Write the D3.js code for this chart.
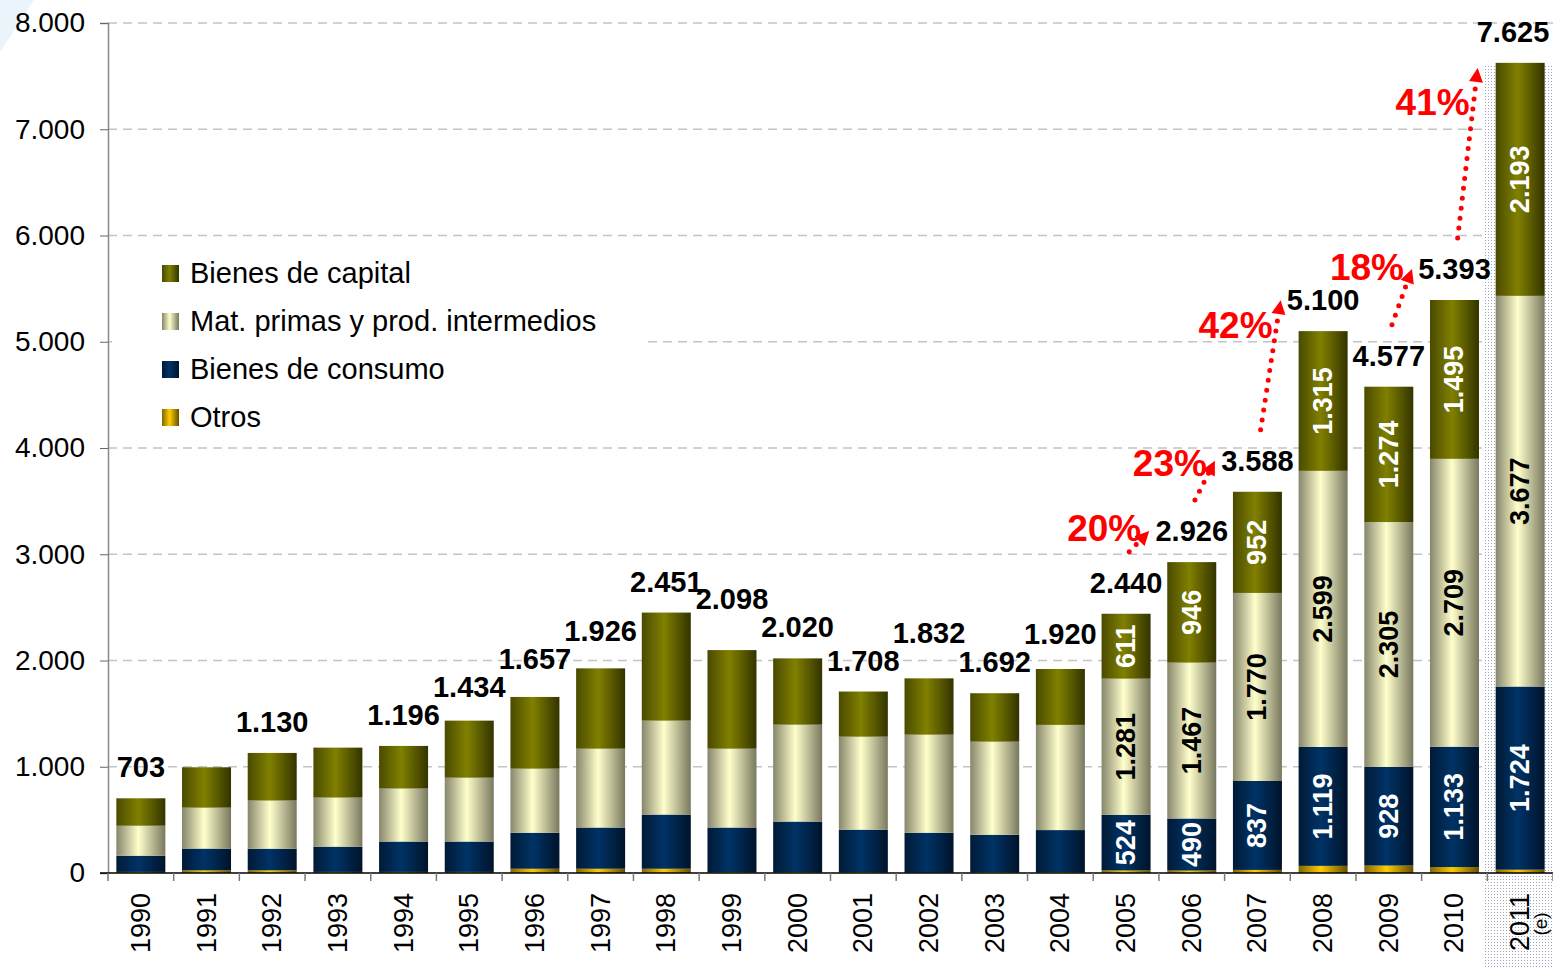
<!DOCTYPE html>
<html>
<head>
<meta charset="utf-8">
<script src="https://cdn.jsdelivr.net/npm/d3@7"></script>
<style>
  body { margin: 0; background: #fff; }
  svg { display: block; font-family: "Liberation Sans", Arial, sans-serif; }
</style>
</head>
<body>
<div id="chart"></div>
<script>
// data
const years = ['1990','1991','1992','1993','1994','1995','1996','1997','1998','1999','2000',
               '2001','2002','2003','2004','2005','2006','2007','2008','2009','2010','2011'];
const otros     = [10, 25, 25, 10, 10, 10, 40, 40, 40, 8, 8, 8, 3, 8, 8, 24, 23, 29, 67, 70, 56, 31];
const consumo   = [153, 205, 204, 238, 286, 286, 339, 388, 510, 420, 476, 400, 376, 352, 396, 524, 490, 837, 1119, 928, 1133, 1724];
const matPrimas = [282, 385, 453, 462, 499, 601, 603, 742, 884, 742, 912, 875, 923, 876, 990, 1281, 1467, 1770, 2599, 2305, 2709, 3677];
const capital   = [258, 380, 448, 470, 401, 537, 675, 756, 1017, 928, 624, 425, 530, 456, 526, 611, 946, 952, 1315, 1274, 1495, 2193];
// totals printed above bars (1991 and 1993 have none)
const totalLabels = [703, null, 1130, null, 1196, 1434, 1657, 1926, 2451, 2098, 2020,
                     1708, 1832, 1692, 1920, 2440, 2926, 3588, 5100, 4577, 5393, 7625];
const yTicks = [0, 1000, 2000, 3000, 4000, 5000, 6000, 7000, 8000];
const growthPairs = [['2005','2006'], ['2006','2007'], ['2007','2008'], ['2009','2010'], ['2010','2011']];
const labelFrom = '2005';   // segment values printed from this year on
const estimateYear = '2011';

const seriesNames = {
    capital: 'Bienes de capital',
    mat: 'Mat. primas y prod. intermedios',
    consumo: 'Bienes de consumo',
    otros: 'Otros'
};
const shades = {
    capital: ['#4a4a00', '#808000', '#333300'],
    mat:     ['#86866c', '#ffffcc', '#78785f'],
    consumo: ['#001a35', '#003366', '#00132a'],
    otros:   ['#806600', '#ffcc00', '#664f00']
};
const labelColor = { capital: '#fff', mat: '#000', consumo: '#fff' };

const W = 1553, H = 969;
const es = d3.formatLocale({ decimal: ',', thousands: '.', grouping: [3], currency: ['', ''] });
const fmt = es.format(',d');

const rows = years.map((y, i) => ({
    year: y, otros: otros[i], consumo: consumo[i], mat: matPrimas[i], capital: capital[i]
}));
const totals = rows.map(d => d.otros + d.consumo + d.mat + d.capital);

const svg = d3.select('#chart').append('svg')
    .attr('width', W).attr('height', H);

const defs = svg.append('defs');
Object.keys(shades).forEach(k => {
    const g = defs.append('linearGradient').attr('id', 'g-' + k)
        .attr('x1', 0).attr('x2', 1).attr('y1', 0).attr('y2', 0);
    g.append('stop').attr('offset', '0%').attr('stop-color', shades[k][0]);
    g.append('stop').attr('offset', '45%').attr('stop-color', shades[k][1]);
    g.append('stop').attr('offset', '100%').attr('stop-color', shades[k][2]);
});
const pat = defs.append('pattern').attr('id', 'stipple')
    .attr('width', 3).attr('height', 3).attr('patternUnits', 'userSpaceOnUse');
pat.append('rect').attr('width', 3).attr('height', 3).attr('fill', '#fff');
pat.append('rect').attr('width', 1).attr('height', 1).attr('fill', '#9ea3ba');

// faint corner decoration
svg.append('path').attr('d', 'M0,0 L34,0 L0,52 Z').attr('fill', '#e9f5fb');

const x = d3.scaleBand().domain(years).range([108, W])
    .paddingInner(0.254).paddingOuter(0.127);
const y = d3.scaleLinear().domain([0, 8000]).range([873, 23]);

// grid lines
svg.append('g').selectAll('line').data(yTicks.filter(t => t > 0)).enter().append('line')
    .attr('x1', 108).attr('x2', W)
    .attr('y1', d => y(d)).attr('y2', d => y(d))
    .attr('stroke', '#c4c4c4').attr('stroke-width', 1.3)
    .attr('stroke-dasharray', '9,6');

// estimate-year shaded column
const estLeft = x(estimateYear) - x.step() * x.paddingInner() / 2 - 4;
svg.append('rect')
    .attr('x', estLeft).attr('y', y(7600))
    .attr('width', W - estLeft).attr('height', H - y(7600))
    .attr('fill', 'url(#stipple)');

// y axis
const yAxis = svg.append('g')
    .attr('transform', 'translate(108,0)')
    .call(d3.axisLeft(y).tickValues(yTicks).tickFormat(fmt).tickSize(8).tickPadding(15));
yAxis.select('.domain').attr('stroke', '#888').attr('stroke-width', 1.5);
yAxis.selectAll('.tick line').attr('stroke', '#666');
yAxis.selectAll('text').attr('font-size', 28).attr('fill', '#000')
    .attr('font-family', '"Liberation Sans", Arial, sans-serif');

// stacked bars
const stack = d3.stack().keys(['otros', 'consumo', 'mat', 'capital']);
const series = stack(rows);
svg.append('g').selectAll('g').data(series).enter().append('g')
    .attr('fill', s => `url(#g-${s.key})`)
    .selectAll('rect').data(s => s).enter().append('rect')
    .attr('x', d => x(d.data.year))
    .attr('width', x.bandwidth())
    .attr('y', d => y(d[1]))
    .attr('height', d => y(d[0]) - y(d[1]));

// x axis baseline + category boundary ticks
svg.append('line')
    .attr('x1', 100).attr('x2', W).attr('y1', y(0)).attr('y2', y(0))
    .attr('stroke', '#000').attr('stroke-width', 1.5);
svg.append('g').selectAll('line').data(d3.range(years.length + 1)).enter().append('line')
    .attr('x1', i => 108 + i * x.step()).attr('x2', i => 108 + i * x.step())
    .attr('y1', y(0)).attr('y2', y(0) + 8)
    .attr('stroke', '#777').attr('stroke-width', 1.5);

// year labels
svg.append('g').selectAll('text').data(years).enter().append('text')
    .attr('transform', d => `translate(${x(d) + x.bandwidth() / 2},893) rotate(-90)`)
    .attr('text-anchor', 'end').attr('dominant-baseline', 'central')
    .attr('font-size', 27).attr('fill', '#000')
    .text(d => d);
svg.append('text')
    .attr('transform', `translate(${x(estimateYear) + x.bandwidth() / 2 + 20},924) rotate(-90)`)
    .attr('text-anchor', 'middle').attr('dominant-baseline', 'central')
    .attr('font-size', 19).attr('fill', '#000')
    .text('(e)');

// segment values
const fromIdx = years.indexOf(labelFrom);
series.filter(s => s.key !== 'otros').forEach(s => {
    svg.append('g').selectAll('text')
        .data(s.filter(d => years.indexOf(d.data.year) >= fromIdx)).enter().append('text')
        .attr('transform', d => `translate(${x(d.data.year) + x.bandwidth() / 2},${(y(d[0]) + y(d[1])) / 2}) rotate(-90)`)
        .attr('text-anchor', 'middle').attr('dominant-baseline', 'central')
        .attr('font-size', 27).attr('font-weight', 'bold')
        .attr('fill', labelColor[s.key])
        .text(d => fmt(d.data[s.key]));
});

// totals, nudged up when a neighbour sits at nearly the same height
const tl = years.map((yr, i) => ({
    year: yr, label: totalLabels[i], cx: Math.min(x(yr) + x.bandwidth() / 2, W - 40), by: y(totals[i]) - 21
}));
for (let i = 0; i < tl.length - 1; i++) {
    const a = tl[i], b = tl[i + 1];
    if (a.label == null || b.label == null) continue;
    if (Math.abs(a.by - b.by) < 28) {
        if (a.by < b.by) a.by = b.by - 28; else b.by = a.by - 28;
    }
}
const shown = tl.filter(d => d.label != null);
svg.append('g').selectAll('text')
    .data(shown)
    .enter().append('text')
    .attr('x', d => d.cx)
    .attr('y', d => d.by)
    .attr('text-anchor', 'middle')
    .attr('font-size', 29).attr('font-weight', 'bold').attr('fill', '#000')
    .text(d => fmt(d.label));

// growth arrows
const ann = svg.append('g');
growthPairs.forEach(([a, b]) => {
    const ta = totals[years.indexOf(a)], tb = totals[years.indexOf(b)];
    const hx = x(b) - 18, hy = Math.max(y(tb) - 31, 68);
    const tx = hx - 20, ty = y(ta) - 62;
    const ang = Math.atan2(hy - ty, hx - tx);
    const len = 14, hw = 7;
    const bx = hx - len * Math.cos(ang), by = hy - len * Math.sin(ang);
    ann.append('line')
        .attr('x1', tx).attr('y1', ty).attr('x2', bx).attr('y2', by)
        .attr('stroke', '#ff0000').attr('stroke-width', 5)
        .attr('stroke-linecap', 'round').attr('stroke-dasharray', '0,10');
    const px = -Math.sin(ang), py = Math.cos(ang);
    ann.append('path')
        .attr('d', `M${hx},${hy} L${bx + px * hw},${by + py * hw} L${bx - px * hw},${by - py * hw} Z`)
        .attr('fill', '#ff0000');
    // keep the percentage clear of the total labels
    const endX = hx - 8, wid = 75;
    let base = hy + 0.25 * (ty - hy) + 5;
    shown.forEach(l => {
        const overlapX = l.cx - 37 < endX && l.cx + 37 > endX - wid;
        const overlapY = l.by - 24 < base + 3 && l.by + 2 > base - 28;
        if (overlapX && overlapY) base = l.by - 30;
    });
    ann.append('text')
        .attr('x', endX).attr('y', base)
        .attr('text-anchor', 'end')
        .attr('font-size', 37).attr('font-weight', 'bold').attr('fill', '#ff0000')
        .text(Math.round((tb / ta - 1) * 100) + '%');
});

// legend
const legend = svg.append('g');
legend.append('rect').attr('x', 112).attr('y', 248).attr('width', 535).attr('height', 192).attr('fill', '#fff');
['capital', 'mat', 'consumo', 'otros'].forEach((k, i) => {
    const cy = 273 + i * 48;
    legend.append('rect').attr('x', 162).attr('y', cy - 8).attr('width', 17).attr('height', 17)
        .attr('fill', `url(#g-${k})`);
    legend.append('text').attr('x', 190).attr('y', cy).attr('dominant-baseline', 'central')
        .attr('font-size', 29).attr('fill', '#000').text(seriesNames[k]);
});
</script>
</body>
</html>
